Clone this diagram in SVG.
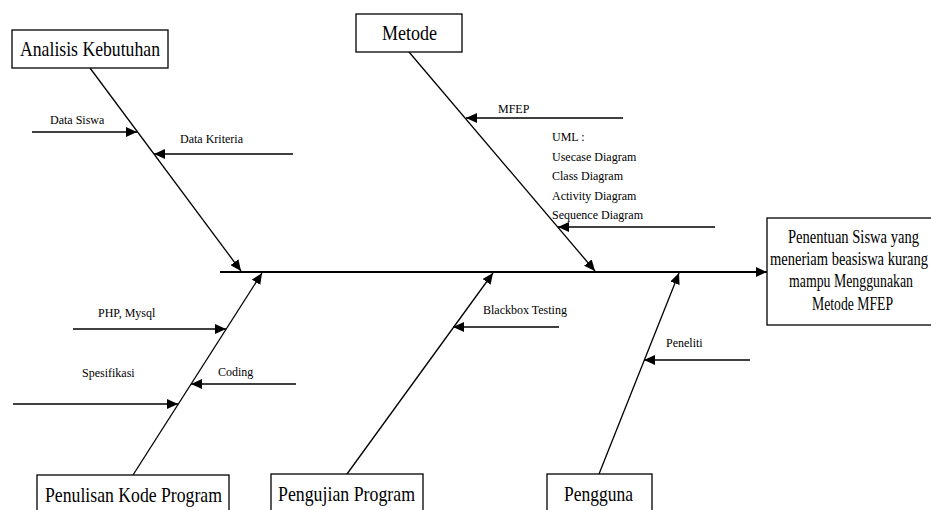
<svg xmlns="http://www.w3.org/2000/svg" width="931" height="510" viewBox="0 0 931 510">
<style>
.box{fill:#fff;stroke:#000;stroke-width:1.3}
text{font-family:'Liberation Serif','Times New Roman',Tinos,'DejaVu Serif',serif;fill:#000}
.bt{font-size:21px}
.rt{font-size:18px}
.lb{font-size:12px}
.ln{stroke:#000;stroke-width:1.3;fill:none;marker-end:url(#ah)}
.sp{stroke:#000;stroke-width:2;fill:none;marker-end:url(#ah)}
</style>
<defs>
<marker id="ah" markerUnits="userSpaceOnUse" markerWidth="12" markerHeight="10" refX="11" refY="5" orient="auto">
<path d="M0,0 L11,5 L0,10 z" fill="#000"/>
</marker>
</defs>
<rect width="931" height="510" fill="#fff"/>
<g id="connectors">
<line class="sp" x1="220" y1="272" x2="767" y2="272"/>
<line class="ln" x1="90" y1="68" x2="241" y2="271"/>
<line class="ln" x1="409" y1="52" x2="595" y2="271"/>
<line class="ln" x1="133" y1="475" x2="262" y2="273"/>
<line class="ln" x1="347" y1="474" x2="493" y2="273"/>
<line class="ln" x1="599" y1="474" x2="679" y2="273"/>
<line class="ln" x1="32" y1="132" x2="137" y2="132"/>
<line class="ln" x1="293" y1="154" x2="154" y2="154"/>
<line class="ln" x1="623" y1="118" x2="466" y2="118"/>
<line class="ln" x1="715" y1="227" x2="558" y2="227"/>
<line class="ln" x1="73" y1="329" x2="226" y2="329"/>
<line class="ln" x1="296" y1="384" x2="191" y2="384"/>
<line class="ln" x1="13" y1="404" x2="178" y2="404"/>
<line class="ln" x1="559" y1="327" x2="453" y2="327"/>
<line class="ln" x1="750" y1="360" x2="644" y2="360"/>
</g>
<g id="labels">
<text class="lb" x="50" y="124">Data Siswa</text>
<text class="lb" x="180" y="143">Data Kriteria</text>
<text class="lb" x="498" y="113">MFEP</text>
<text class="lb" x="552" y="141">UML :</text>
<text class="lb" x="552" y="161">Usecase Diagram</text>
<text class="lb" x="552" y="180">Class Diagram</text>
<text class="lb" x="552" y="200">Activity Diagram</text>
<text class="lb" x="552" y="219">Sequence Diagram</text>
<text class="lb" x="98" y="317">PHP, Mysql</text>
<text class="lb" x="82" y="377">Spesifikasi</text>
<text class="lb" x="218" y="376">Coding</text>
<text class="lb" x="483" y="314">Blackbox Testing</text>
<text class="lb" x="666" y="347">Peneliti</text>
</g>
<g id="analisis">
<rect class="box" x="12" y="30" width="156" height="38"/>
<text class="bt" x="20" y="56" textLength="140" lengthAdjust="spacingAndGlyphs">Analisis Kebutuhan</text>
</g>
<g id="metode">
<rect class="box" x="356" y="14" width="106" height="38"/>
<text class="bt" x="382" y="40" textLength="55" lengthAdjust="spacingAndGlyphs">Metode</text>
</g>
<g id="penulisan">
<rect class="box" x="37" y="475" width="192" height="45"/>
<text class="bt" x="45" y="502" textLength="177" lengthAdjust="spacingAndGlyphs">Penulisan Kode Program</text>
</g>
<g id="pengujian">
<rect class="box" x="271" y="474" width="152" height="46"/>
<text class="bt" x="278" y="501" textLength="137" lengthAdjust="spacingAndGlyphs">Pengujian Program</text>
</g>
<g id="pengguna">
<rect class="box" x="547" y="474" width="105" height="46"/>
<text class="bt" x="564" y="501" textLength="69" lengthAdjust="spacingAndGlyphs">Pengguna</text>
</g>
<g id="hasil">
<rect class="box" x="767" y="218" width="180" height="107"/>
<text class="rt" x="788" y="243" textLength="131" lengthAdjust="spacingAndGlyphs">Penentuan Siswa yang</text>
<text class="rt" x="770" y="265" textLength="158" lengthAdjust="spacingAndGlyphs">meneriam beasiswa kurang</text>
<text class="rt" x="789" y="287" textLength="124" lengthAdjust="spacingAndGlyphs">mampu Menggunakan</text>
<text class="rt" x="812" y="310" textLength="81" lengthAdjust="spacingAndGlyphs">Metode MFEP</text>
</g>
</svg>
